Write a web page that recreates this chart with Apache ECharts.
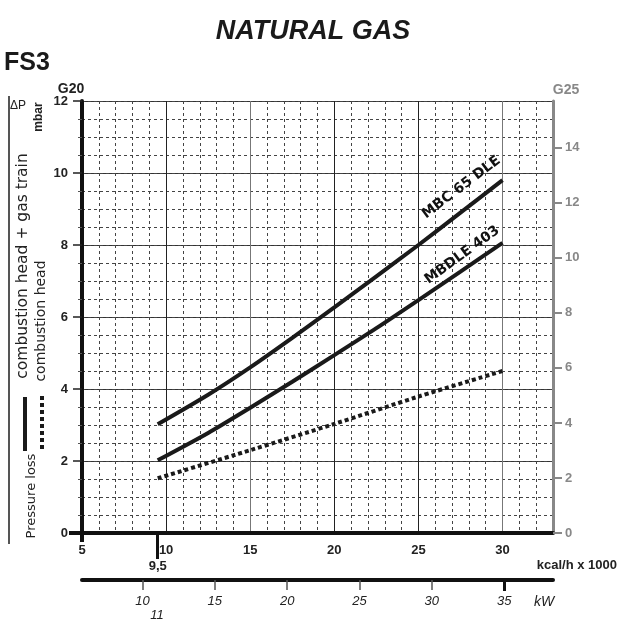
<!DOCTYPE html>
<html><head><meta charset="utf-8">
<script src="https://cdn.jsdelivr.net/npm/echarts@6/dist/echarts.min.js"></script>
<style>html,body{margin:0;padding:0;background:#fff}#c{width:624px;height:619px}</style>
</head><body><div id="c"></div>
<script>
// ---- data (kcal/h x 1000 vs ΔP mbar, G20) ----
const kcalMin = 5, kcalMax = 33;
const g20Max = 12, g25Max = 15.7;
const kwPerKcal = 1.163;
const mbc65X = [9.5, 12.5, 15, 17.5, 20, 22.5, 25, 27.5, 30];
const mbc65Y = [3.02, 3.84, 4.6, 5.42, 6.27, 7.13, 8.0, 8.9, 9.8];
const mbdleX = [9.5, 12.5, 15, 17.5, 20, 22.5, 25, 27.5, 30];
const mbdleY = [2.02, 2.78, 3.48, 4.2, 4.94, 5.69, 6.47, 7.26, 8.06];
const headX = [9.5, 15, 20, 25, 30];
const headY = [1.52, 2.3, 3.03, 3.79, 4.5];
const kcalLabels = [5, 10, 15, 20, 25, 30];
const kcalMark = [9.5];
const g20Ticks = [0, 2, 4, 6, 8, 10, 12];
const g25Ticks = [0, 2, 4, 6, 8, 10, 12, 14];
const kwLabels = [10, 15, 20, 25, 30, 35];
const kwTicks = [10, 15, 20, 25, 30];
const kwMark11 = [11];
const kwMark35 = [35];
const labelMbc = {x: 27.55, y: 9.6, text: 'MBC 65 DLE'};
const labelMbdle = {x: 27.6, y: 7.72, text: 'MBDLE 403'};

const pairs = (xs, ys) => xs.map((x, i) => [x, ys[i]]);
const none = {show: false};
const F = 'Liberation Sans';

const chart = echarts.init(document.getElementById('c'), null, {renderer: 'canvas'});
const xBase = {type: 'value', min: kcalMin, max: kcalMax, position: 'bottom', gridIndex: 0};
const yBase = {type: 'value', min: 0, max: g20Max, gridIndex: 0};

chart.setOption({
  animation: false,
  backgroundColor: '#fff',
  grid: [{left: 82, right: 71, top: 101, bottom: 86, containLabel: false, outerBoundsMode: 'none'}],
  xAxis: [
    Object.assign({}, xBase, {
      interval: 1,
      axisLine: {show: true, onZero: false, lineStyle: {color: '#111', width: 4}},
      axisTick: {show: true, customValues: [kcalMin], length: 9, lineStyle: {color: '#111', width: 4}},
      axisLabel: {show: true, customValues: kcalLabels, margin: 11, color: '#222', fontFamily: F, fontWeight: 'bold', fontSize: 13},
      splitLine: none
    }),
    Object.assign({}, xBase, {
      interval: 1, axisLine: none, axisTick: none, axisLabel: none,
      splitLine: {show: true, lineStyle: {color: '#444', width: 1, type: [3, 3]}}
    }),
    Object.assign({}, xBase, {
      interval: 5, axisLine: none, axisTick: none, axisLabel: none,
      splitLine: {show: true, lineStyle: {color: ['#222', '#222', '#777', '#222', '#222', '#777', '#777'], width: 1}}
    }),
    Object.assign({}, xBase, {
      axisLine: none, splitLine: none,
      axisTick: {show: true, customValues: kcalMark, length: 23, lineStyle: {color: '#111', width: 3}},
      axisLabel: {show: true, customValues: kcalMark, margin: 27, formatter: v => String(v).replace('.', ','), color: '#222', fontFamily: F, fontWeight: 'bold', fontSize: 13}
    }),
    {type: 'value', gridIndex: 0, position: 'bottom', offset: 47,
      min: kcalMin * kwPerKcal, max: kcalMax * kwPerKcal,
      axisLine: {show: true, onZero: false, lineStyle: {color: '#111', width: 4}},
      axisTick: {show: true, customValues: kwTicks, length: 10, lineStyle: {color: '#555', width: 1.5}},
      axisLabel: {show: true, customValues: kwLabels, margin: 15, color: '#222', fontFamily: F, fontStyle: 'italic', fontSize: 13},
      splitLine: none},
    {type: 'value', gridIndex: 0, position: 'bottom', offset: 47,
      min: kcalMin * kwPerKcal, max: kcalMax * kwPerKcal,
      axisLine: none, splitLine: none,
      axisTick: {show: true, customValues: kwMark11, length: 26, lineStyle: {color: '#111', width: 3}},
      axisLabel: {show: true, customValues: kwMark11, margin: 29, color: '#222', fontFamily: F, fontStyle: 'italic', fontSize: 13}},
    {type: 'value', gridIndex: 0, position: 'bottom', offset: 47,
      min: kcalMin * kwPerKcal, max: kcalMax * kwPerKcal,
      axisLine: none, splitLine: none, axisLabel: none,
      axisTick: {show: true, customValues: kwMark35, length: 11, lineStyle: {color: '#111', width: 3}}}
  ],
  yAxis: [
    Object.assign({}, yBase, {
      position: 'left', interval: 2,
      axisLine: {show: true, onZero: false, lineStyle: {color: '#111', width: 4}},
      axisTick: {show: true, length: 9, lineStyle: {color: '#222', width: 1.5}},
      minorTick: {show: true, splitNumber: 4, length: 4, lineStyle: {color: '#555', width: 1}},
      axisLabel: {show: true, margin: 14, color: '#222', fontFamily: F, fontWeight: 'bold', fontSize: 13},
      splitLine: {show: true, lineStyle: {color: '#333', width: 1}}
    }),
    Object.assign({}, yBase, {
      position: 'left', interval: 0.5, axisLine: none, axisTick: none, axisLabel: none,
      splitLine: {show: true, lineStyle: {color: '#444', width: 1, type: [3, 3]}}
    }),
    {type: 'value', gridIndex: 0, position: 'right', min: 0, max: g25Max,
      axisLine: {show: true, onZero: false, lineStyle: {color: '#888', width: 3}},
      axisTick: {show: true, customValues: g25Ticks, length: 9, lineStyle: {color: '#888', width: 2}},
      axisLabel: {show: true, customValues: g25Ticks, margin: 12, color: '#888', fontFamily: F, fontWeight: 'bold', fontSize: 13},
      splitLine: none},
    Object.assign({}, yBase, {
      position: 'left', axisLine: none, axisLabel: none, splitLine: none,
      axisTick: {show: true, customValues: [0], length: 13, lineStyle: {color: '#111', width: 4}}
    })
  ],
  series: [
    {type: 'line', name: 'MBC 65 DLE', xAxisIndex: 0, yAxisIndex: 0, data: pairs(mbc65X, mbc65Y),
      smooth: 0.3, symbol: 'none', silent: true, z: 5,
      lineStyle: {color: '#1a1a1a', width: 4, cap: 'butt'},
      markPoint: {symbol: 'circle', symbolSize: 1, silent: true, itemStyle: {color: 'rgba(0,0,0,0)'},
        label: {show: true, position: 'inside', rotate: 37, formatter: labelMbc.text, color: '#111', fontFamily: 'DejaVu Sans', fontWeight: 'bold', fontSize: 14},
        data: [{coord: [labelMbc.x, labelMbc.y]}]}},
    {type: 'line', name: 'MBDLE 403', xAxisIndex: 0, yAxisIndex: 0, data: pairs(mbdleX, mbdleY),
      smooth: 0.3, symbol: 'none', silent: true, z: 5,
      lineStyle: {color: '#1a1a1a', width: 4, cap: 'butt'},
      markPoint: {symbol: 'circle', symbolSize: 1, silent: true, itemStyle: {color: 'rgba(0,0,0,0)'},
        label: {show: true, position: 'inside', rotate: 36, formatter: labelMbdle.text, color: '#111', fontFamily: 'DejaVu Sans', fontWeight: 'bold', fontSize: 14},
        data: [{coord: [labelMbdle.x, labelMbdle.y]}]}},
    {type: 'line', name: 'combustion head', xAxisIndex: 0, yAxisIndex: 0, data: pairs(headX, headY),
      smooth: 0.3, symbol: 'none', silent: true, z: 5,
      lineStyle: {color: '#1a1a1a', width: 4, type: [4, 3], cap: 'butt'}}
  ],
  graphic: [
    {type: 'text', x: 313, y: 32, style: {text: 'NATURAL GAS', align: 'center', verticalAlign: 'middle', fill: '#1a1a1a', fontFamily: F, fontWeight: 'bold', fontStyle: 'italic', fontSize: 27}},
    {type: 'text', x: 4, y: 63, style: {text: 'FS3', align: 'left', verticalAlign: 'middle', fill: '#1a1a1a', fontFamily: F, fontWeight: 'bold', fontSize: 25}},
    {type: 'text', x: 71, y: 89, style: {text: 'G20', align: 'center', verticalAlign: 'middle', fill: '#222', fontFamily: F, fontWeight: 'bold', fontSize: 14}},
    {type: 'text', x: 566, y: 90, style: {text: 'G25', align: 'center', verticalAlign: 'middle', fill: '#888', fontFamily: F, fontWeight: 'bold', fontSize: 14}},
    {type: 'text', x: 18, y: 106, style: {text: 'ΔP', align: 'center', verticalAlign: 'middle', fill: '#222', fontFamily: F, fontSize: 12}},
    {type: 'text', x: 39, y: 117, rotation: Math.PI / 2, style: {text: 'mbar', align: 'center', verticalAlign: 'middle', fill: '#222', fontFamily: F, fontWeight: 'bold', fontSize: 12}},
    {type: 'line', shape: {x1: 9, y1: 96, x2: 9, y2: 544}, style: {stroke: '#555', lineWidth: 2}},
    {type: 'text', x: 23, y: 266, rotation: Math.PI / 2, style: {text: 'combustion head + gas train', align: 'center', verticalAlign: 'middle', fill: '#222', fontFamily: 'DejaVu Sans', fontSize: 15.5}},
    {type: 'text', x: 41, y: 321, rotation: Math.PI / 2, style: {text: 'combustion head', align: 'center', verticalAlign: 'middle', fill: '#222', fontFamily: 'DejaVu Sans', fontSize: 14}},
    {type: 'text', x: 32, y: 496, rotation: Math.PI / 2, style: {text: 'Pressure loss', align: 'center', verticalAlign: 'middle', fill: '#222', fontFamily: 'DejaVu Sans', fontSize: 13}},
    {type: 'line', shape: {x1: 25, y1: 397, x2: 25, y2: 451}, style: {stroke: '#1a1a1a', lineWidth: 4}},
    {type: 'line', shape: {x1: 42, y1: 396, x2: 42, y2: 452}, style: {stroke: '#1a1a1a', lineWidth: 4, lineDash: [4, 3]}},
    {type: 'text', x: 617, y: 565, style: {text: 'kcal/h x 1000', align: 'right', verticalAlign: 'middle', fill: '#222', fontFamily: F, fontWeight: 'bold', fontSize: 13}},
    {type: 'text', x: 544, y: 602, style: {text: 'kW', align: 'center', verticalAlign: 'middle', fill: '#222', fontFamily: F, fontStyle: 'italic', fontSize: 14}}
  ]
});
</script>
</body></html>
